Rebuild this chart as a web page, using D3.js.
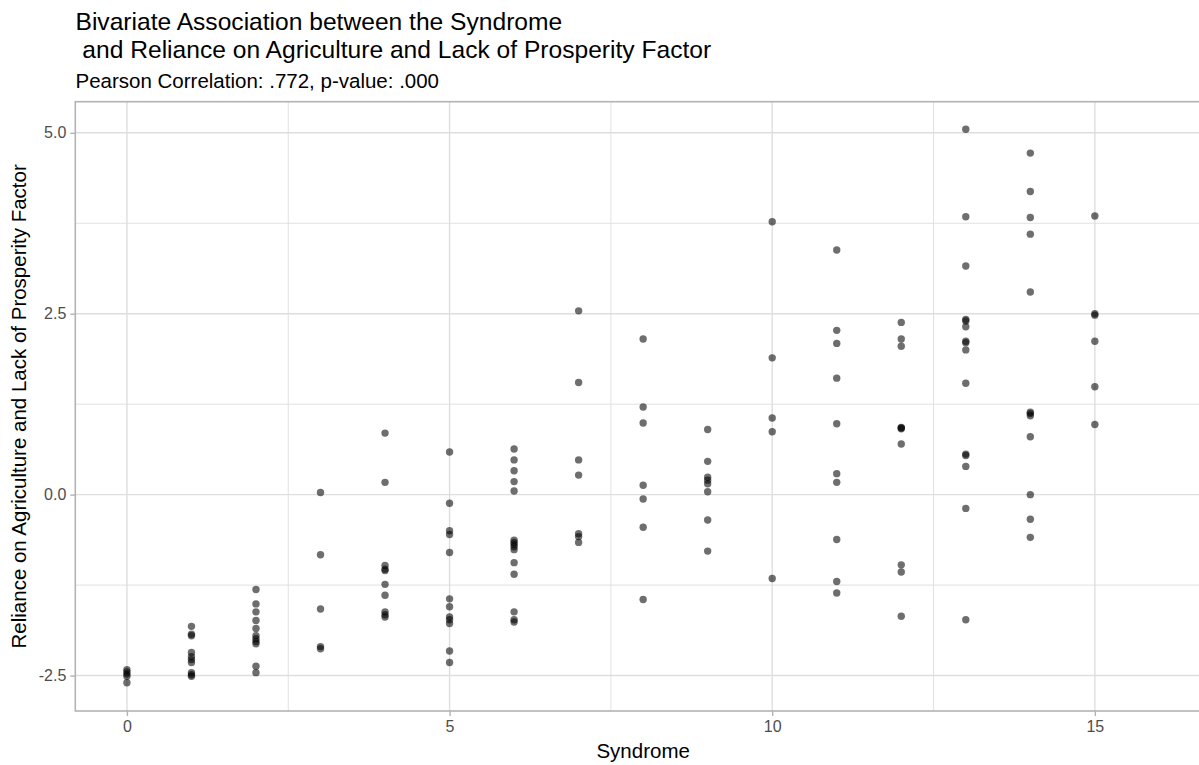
<!DOCTYPE html>
<html>
<head>
<meta charset="utf-8">
<script src="https://cdn.jsdelivr.net/npm/d3@7/dist/d3.min.js"></script>
<style>
  html, body { margin: 0; padding: 0; background: #fff; }
  svg { display: block; font-family: "Liberation Sans", Arial, sans-serif; }
</style>
</head>
<body>
<svg id="chart" width="1199" height="765"></svg>
<script>
// ---- Data ----
const titleLines = ["Bivariate Association between the Syndrome", " and Reliance on Agriculture and Lack of Prosperity Factor"];
const subtitle = "Pearson Correlation: .772, p-value: .000";
const xLabel = "Syndrome";
const yLabel = "Reliance on Agriculture and Lack of Prosperity Factor";

const xTicks = [0, 5, 10, 15];
const xMinor = [2.5, 7.5, 12.5];
const yTicks = [-2.5, 0, 2.5, 5];
const yTickLabels = ["-2.5", "0.0", "2.5", "5.0"];
const yMinor = [-1.25, 1.25, 3.75];

// Syndrome levels and the factor scores observed at each level
const syndromeLevels = [0, 1, 2, 3, 4, 5, 6, 7, 8, 9, 10, 11, 12, 13, 14, 15];
const relianceByLevel = [
  [-2.42, -2.45, -2.48, -2.51, -2.60],
  [-1.82, -1.93, -1.95, -2.18, -2.24, -2.28, -2.32, -2.46, -2.49, -2.51],
  [-1.31, -1.51, -1.62, -1.74, -1.85, -1.95, -1.99, -2.03, -2.06, -2.37, -2.46],
  [0.03, -0.83, -1.58, -2.10, -2.13],
  [0.85, 0.17, -0.98, -1.03, -1.05, -1.24, -1.39, -1.62, -1.66, -1.69],
  [0.59, -0.12, -0.50, -0.55, -0.80, -1.44, -1.55, -1.69, -1.73, -1.78, -2.16, -2.32],
  [0.63, 0.48, 0.33, 0.18, 0.05, -0.63, -0.66, -0.69, -0.72, -0.76, -0.94, -1.10, -1.62, -1.73, -1.76],
  [2.54, 1.55, 0.48, 0.27, -0.54, -0.58, -0.66],
  [2.15, 1.21, 0.99, 0.13, -0.06, -0.45, -1.45],
  [0.90, 0.46, 0.24, 0.20, 0.15, 0.04, -0.35, -0.78],
  [3.77, 1.89, 1.06, 0.87, -1.16],
  [3.38, 2.27, 2.09, 1.61, 0.98, 0.29, 0.17, -0.62, -1.20, -1.36],
  [2.38, 2.15, 2.05, 0.91, 0.92, 0.93, 0.70, -0.97, -1.07, -1.68],
  [5.05, 3.84, 3.16, 2.42, 2.40, 2.32, 2.12, 2.10, 2.00, 1.54, 0.56, 0.54, 0.39, -0.19, -1.73],
  [4.72, 4.19, 3.83, 3.60, 2.80, 1.14, 1.12, 1.09, 0.80, 0.00, -0.34, -0.59],
  [3.85, 2.50, 2.48, 2.12, 1.49, 0.97]
];

const points = [];
syndromeLevels.forEach((s, i) => relianceByLevel[i].forEach(v => points.push({ x: s, y: v })));

// ---- Layout ----
const svg = d3.select("#chart");
const panel = { left: 75.3, right: 1211, top: 101.7, bottom: 711 };

const x = d3.scaleLinear().domain([-0.8, 16.8]).range([panel.left, panel.right]);
const y = d3.scaleLinear().domain([-2.99, 5.43]).range([panel.bottom, panel.top]);

const gridColor = "#DEDEDE";

// minor grid
svg.append("g").selectAll("line").data(xMinor).join("line")
  .attr("x1", d => x(d)).attr("x2", d => x(d))
  .attr("y1", panel.top).attr("y2", panel.bottom)
  .attr("stroke", gridColor).attr("stroke-width", 0.9);
svg.append("g").selectAll("line").data(yMinor).join("line")
  .attr("y1", d => y(d)).attr("y2", d => y(d))
  .attr("x1", panel.left).attr("x2", panel.right)
  .attr("stroke", gridColor).attr("stroke-width", 0.9);
// major grid
svg.append("g").selectAll("line").data(xTicks).join("line")
  .attr("x1", d => x(d)).attr("x2", d => x(d))
  .attr("y1", panel.top).attr("y2", panel.bottom)
  .attr("stroke", gridColor).attr("stroke-width", 1.4);
svg.append("g").selectAll("line").data(yTicks).join("line")
  .attr("y1", d => y(d)).attr("y2", d => y(d))
  .attr("x1", panel.left).attr("x2", panel.right)
  .attr("stroke", gridColor).attr("stroke-width", 1.4);

// points
svg.append("g").selectAll("circle").data(points).join("circle")
  .attr("cx", d => x(d.x)).attr("cy", d => y(d.y))
  .attr("r", 3.7)
  .attr("fill", "#000").attr("fill-opacity", 0.57);

// panel border
svg.append("rect")
  .attr("x", panel.left).attr("y", panel.top)
  .attr("width", panel.right - panel.left).attr("height", panel.bottom - panel.top)
  .attr("fill", "none").attr("stroke", "#B3B3B3").attr("stroke-width", 1.6);

// axes
const xAxis = d3.axisBottom(x).tickValues(xTicks).tickSize(5).tickPadding(5).tickFormat(d3.format("d"));
const gx = svg.append("g").attr("transform", `translate(0,${panel.bottom})`).call(xAxis);
gx.select(".domain").remove();
gx.selectAll(".tick line").attr("stroke", "#B3B3B3").attr("stroke-width", 1.4);
gx.selectAll(".tick text").attr("fill", "#4D4D4D").style("font-size", "16px")
  .style("font-family", "'Liberation Sans', Arial, sans-serif");

const yAxis = d3.axisLeft(y).tickValues(yTicks).tickSize(5).tickPadding(4)
  .tickFormat((d, i) => yTickLabels[i]);
const gy = svg.append("g").attr("transform", `translate(${panel.left},0)`).call(yAxis);
gy.select(".domain").remove();
gy.selectAll(".tick line").attr("stroke", "#B3B3B3").attr("stroke-width", 1.4);
gy.selectAll(".tick text").attr("fill", "#4D4D4D").style("font-size", "16px")
  .style("font-family", "'Liberation Sans', Arial, sans-serif");

// axis titles
svg.append("text")
  .attr("x", (panel.left + panel.right) / 2).attr("y", 758)
  .attr("text-anchor", "middle").attr("fill", "#000")
  .style("font-size", "20.5px").text(xLabel);
svg.append("text")
  .attr("transform", `translate(26,${(panel.top + panel.bottom) / 2}) rotate(-90)`)
  .attr("text-anchor", "middle").attr("fill", "#000")
  .style("font-size", "20.5px").text(yLabel);

// titles
const titleY = [30, 58];
titleLines.forEach((t, i) => {
  svg.append("text")
    .attr("x", 75.5).attr("y", titleY[i])
    .attr("fill", "#000").style("font-size", "24.6px")
    .style("white-space", "pre").attr("xml:space", "preserve")
    .text(t);
});
svg.append("text")
  .attr("x", 75.5).attr("y", 88)
  .attr("fill", "#000").style("font-size", "20.5px")
  .text(subtitle);
</script>
</body>
</html>
